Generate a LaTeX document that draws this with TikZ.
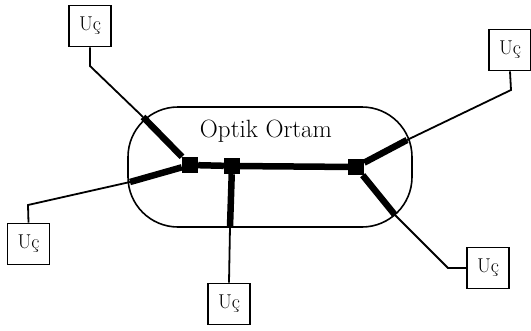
\documentclass[tikz,border=0pt]{standalone}
\usepackage{tikz}
\usetikzlibrary{positioning}

\begin{document}
\begin{tikzpicture}[
  x=1pt,y=-1pt,
  every node/.style={font=\fontsize{20}{23}\selectfont},
  endbox/.style={draw=black,line width=1.8pt,minimum width=42pt,
                 minimum height=41pt,inner sep=0pt},
  joint/.style={rectangle,fill=black,minimum size=16pt,inner sep=0pt},
  medium/.style={draw=black,line width=1.6pt,rounded corners=50pt,
                 minimum width=284pt,minimum height=120pt},
  fibre/.style={draw=black,line width=1.8pt},
  trunk/.style={draw=black,line width=6.5pt}
]
\useasboundingbox (0,0) rectangle (531,330);
\node[medium] (ort) at (270,167) {};
\node[font=\fontsize{25}{28}\selectfont] (title) at (266,131) {Optik Ortam};

\node[joint] (j1) at (190,165) {};
\node[joint] (j2) at (232,166) {};
\node[joint] (j3) at (356,167) {};

\node[endbox] (uc1) at (90,26) {U\c{c}};
\node[endbox] (uc2) at (28.5,244) {U\c{c}};
\node[endbox] (uc3) at (229,304) {U\c{c}};
\node[endbox] (uc4) at (510,50) {U\c{c}};
\node[endbox] (uc5) at (488,268) {U\c{c}};

% crossings with the medium and bends
\coordinate (c1) at (143,117);
\coordinate (c2) at (130,182);
\coordinate (c3) at (230,227);
\coordinate (c4) at (407,140);
\coordinate (c5) at (395,215);
\coordinate (b1) at (90,66);
\coordinate (b2) at (28,205);
\coordinate (b4) at (511,90);
\coordinate (b5) at (448,268);

\draw[trunk] (j1)--(j2)--(j3);
\draw[trunk] (c1)--(j1) (c2)--(j1) (c3)--(j2) (c4)--(j3) (c5)--(j3);
\draw[fibre] (uc1.south)--(b1)--(c1);
\draw[fibre] (uc2.north)--(b2)--(c2);
\draw[fibre] (uc3.north)--(c3);
\draw[fibre] (uc4.south)--(b4)--(c4);
\draw[fibre] (uc5.west)--(b5)--(c5);
\end{tikzpicture}
\end{document}
